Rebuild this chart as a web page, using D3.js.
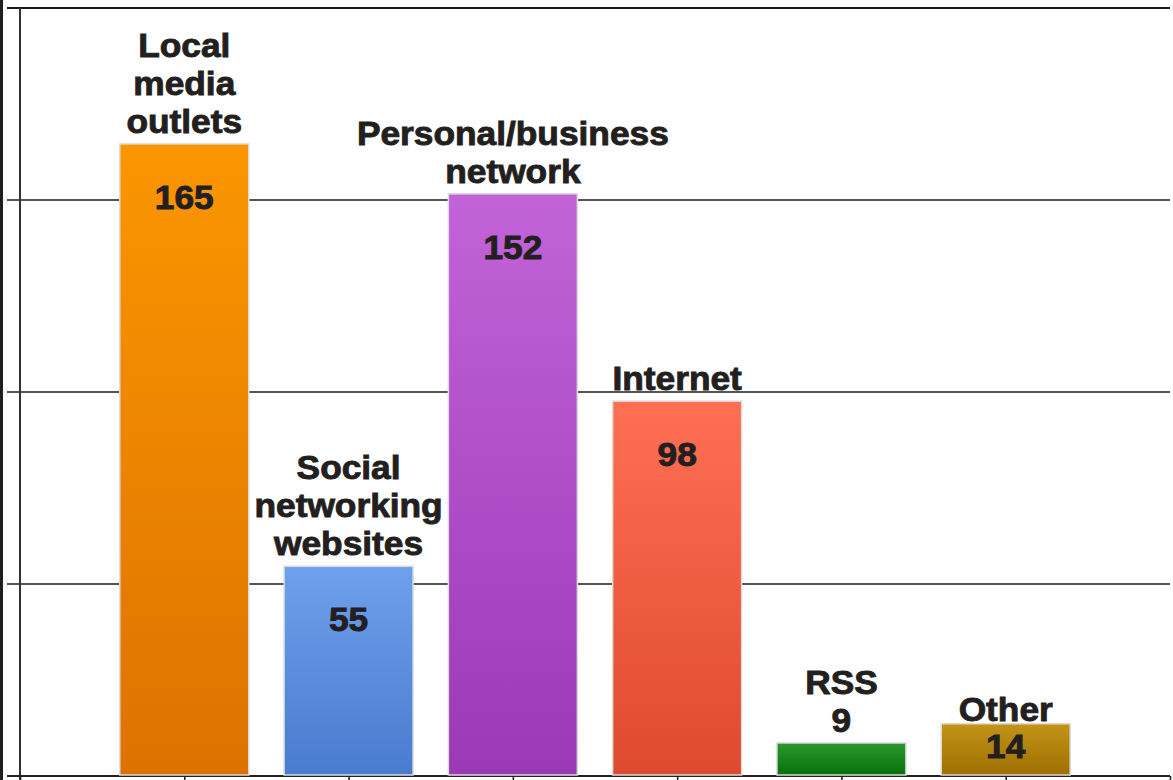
<!DOCTYPE html>
<html>
<head>
<meta charset="utf-8">
<script src="https://cdn.jsdelivr.net/npm/d3@7/dist/d3.min.js"></script>
<style>
  html, body { margin: 0; padding: 0; background: #fff; }
  svg { display: block; }
  text { font-family: "Liberation Sans", Arial, sans-serif; font-weight: bold; fill: #231f20; stroke: #231f20; stroke-width: 0.9px; }
</style>
</head>
<body>
<svg id="chart" width="1173" height="780"></svg>
<script>
// Where people hear about news: counts by source
const categories = [
  ["Local", "media", "outlets"],
  ["Social", "networking", "websites"],
  ["Personal/business", "network"],
  ["Internet"],
  ["RSS"],
  ["Other"]
];
const values = [165, 55, 152, 98, 9, 14];
const yTicks = [50, 100, 150];
const barTopColors = ["#fb9600", "#6fa0ec", "#c263d9", "#ff6f53", "#2b982b", "#c39418"];
const barBottomColors = ["#dd7200", "#497bcf", "#9b39b5", "#de4a2e", "#07700e", "#9f6f00"];

const W = 1173, H = 780;
const plotLeft = 20, plotRight = 1170, plotTop = 8, plotBottom = 776;

const svg = d3.select("#chart");

const x = d3.scaleLinear().domain([0, categories.length + 1]).range([plotLeft, plotRight]);
const y = d3.scaleLinear().domain([0, 200]).range([plotBottom, plotTop]);
const barW = 129;

// vertical gradients for each bar
const defs = svg.append("defs");
values.forEach((v, i) => {
  const g = defs.append("linearGradient")
    .attr("id", "grad" + i).attr("x1", 0).attr("y1", 0).attr("x2", 0).attr("y2", 1);
  g.append("stop").attr("offset", "0%").attr("stop-color", barTopColors[i]);
  g.append("stop").attr("offset", "100%").attr("stop-color", barBottomColors[i]);
});

// dark strip along the left edge
svg.append("rect").attr("x", 0).attr("y", 0).attr("width", 3).attr("height", H).attr("fill", "#1e1e1e");

// frame top line
svg.append("line")
  .attr("x1", 7).attr("x2", plotRight).attr("y1", y(200)).attr("y2", y(200))
  .attr("stroke", "#1a1a1a").attr("stroke-width", 2.2);

// horizontal grid lines
svg.append("g").selectAll("line").data(yTicks).join("line")
  .attr("x1", 7).attr("x2", plotRight)
  .attr("y1", d => y(d)).attr("y2", d => y(d))
  .attr("stroke", "#1a1a1a").attr("stroke-width", 1.6);

// y axis line
svg.append("line")
  .attr("x1", plotLeft).attr("x2", plotLeft).attr("y1", y(200)).attr("y2", H)
  .attr("stroke", "#333").attr("stroke-width", 2);

// x axis with tick marks between categories
const xAxis = d3.axisBottom(x).tickValues(d3.range(0, categories.length + 2)).tickSize(6).tickFormat("");
const gx = svg.append("g").attr("transform", `translate(0,${plotBottom})`).call(xAxis);
gx.select(".domain").remove();
gx.selectAll(".tick line").attr("stroke", "#222").attr("stroke-width", 1.6);
svg.append("line")
  .attr("x1", 7).attr("x2", plotRight).attr("y1", plotBottom).attr("y2", plotBottom)
  .attr("stroke", "#222").attr("stroke-width", 2);

// bars
svg.append("g").selectAll("rect").data(values).join("rect")
  .attr("x", (d, i) => x(i + 1) - barW / 2)
  .attr("y", d => y(d) + 1.5)
  .attr("width", barW)
  .attr("height", d => plotBottom - 2.5 - y(d))
  .attr("fill", (d, i) => `url(#grad${i})`)
  .attr("stroke", "#dcdcdc").attr("stroke-width", 1.5);

const fs = 33, lh = 38, sx = 1.07;
function drawText(str, cx, baseline) {
  svg.append("text")
    .attr("transform", `translate(${cx},${baseline}) scale(${sx},1)`)
    .attr("text-anchor", "middle")
    .attr("font-size", fs)
    .text(str);
}

values.forEach((v, i) => {
  const cx = x(i + 1);
  const barTop = y(v) + 1.5;
  const h = plotBottom - barTop;
  let lines = categories[i].slice();
  let gap = 11;
  if (h > 100) {
    drawText(String(v), cx, barTop + 65);
  } else if (h > 40) {
    drawText(String(v), cx, plotBottom - 18);
    gap = 3;
  } else {
    lines = lines.concat([String(v)]);
  }
  const last = barTop - gap;
  lines.forEach((s, k) => drawText(s, cx, last - (lines.length - 1 - k) * lh));
});
</script>
</body>
</html>
